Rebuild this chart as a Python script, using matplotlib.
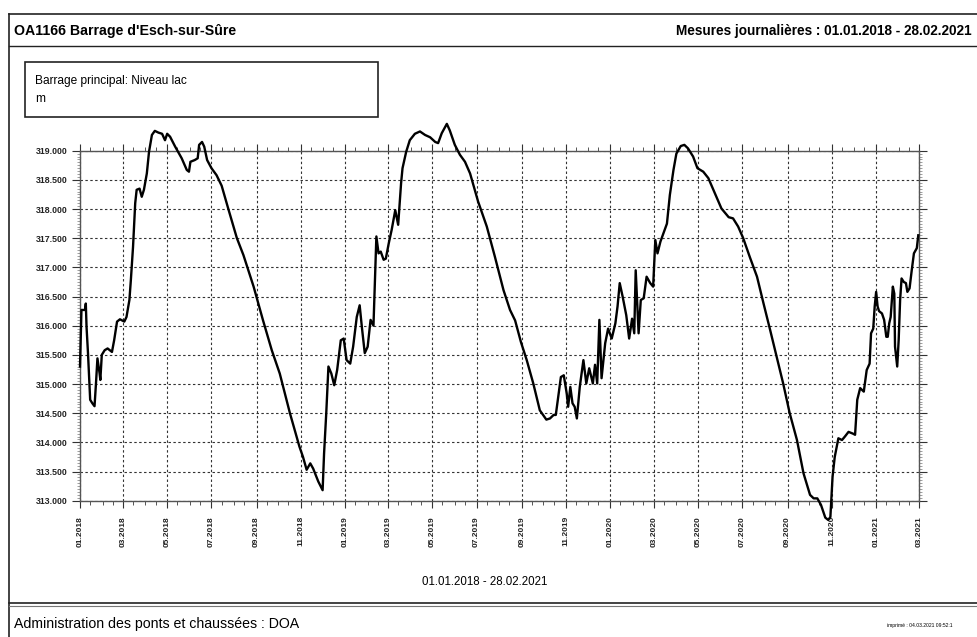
import matplotlib
matplotlib.use("Agg")
import matplotlib.pyplot as plt
import matplotlib.dates as mdates
import pandas as pd
from matplotlib.lines import Line2D
from matplotlib.patches import Rectangle
from matplotlib.ticker import MultipleLocator, FormatStrFormatter

plt.rcParams['font.family'] = ['Liberation Sans', 'DejaVu Sans']

# Barrage principal : niveau du lac (m), jours depuis le 01.01.2018
start_date = "2018-01-01"
days = [0, 2, 7, 8, 9, 11, 14, 17, 20, 22, 24, 27, 28, 30, 34, 38, 41, 44, 47, 51,
        55, 61, 64, 68, 70, 73, 76, 78, 82, 85, 88, 92, 95, 99, 103, 108, 113, 117, 120, 124,
        131, 140, 147, 150, 152, 158, 162, 164, 168, 171, 175, 181, 188, 195, 204, 216, 225, 239, 252, 264,
        275, 289, 302, 307, 312, 317, 321, 328, 334, 336, 339, 342, 346, 350, 354, 359, 363, 367, 372, 376,
        381, 385, 388, 392, 396, 400, 404, 406, 408, 411, 414, 418, 421, 425, 429, 434, 438, 442, 444, 449,
        454, 461, 468, 475, 482, 489, 493, 498, 505, 509, 516, 523, 530, 537, 548, 560, 571, 583, 592, 599,
        607, 615, 624, 633, 642, 647, 652, 655, 659, 662, 666, 670, 672, 675, 678, 681, 684, 688, 693, 697,
        701, 706, 709, 712, 715, 718, 723, 727, 732, 737, 740, 743, 747, 752, 756, 760, 763, 765, 769, 772,
        776, 780, 785, 789, 792, 795, 799, 804, 808, 812, 817, 821, 827, 832, 837, 844, 850, 858, 865, 874,
        883, 893, 899, 906, 913, 922, 932, 941, 950, 959, 968, 977, 987, 996, 1005, 1010, 1015, 1020, 1026, 1030,
        1033, 1036, 1039, 1044, 1049, 1053, 1058, 1064, 1067, 1070, 1074, 1079, 1083, 1087, 1089, 1092, 1094, 1096, 1098, 1100,
        1104, 1107, 1110, 1112, 1114, 1116, 1119, 1121, 1122, 1125, 1127, 1129, 1131, 1134, 1137, 1139, 1142, 1145, 1148, 1152,
        1154]
level = [315.30, 316.27, 316.27, 316.38, 315.98, 315.53, 314.73, 314.67, 314.62, 315.01, 315.44, 315.18, 315.07, 315.50, 315.58, 315.61, 315.58, 315.55, 315.75, 316.07,
         316.11, 316.07, 316.15, 316.44, 316.78, 317.35, 318.10, 318.33, 318.35, 318.21, 318.33, 318.61, 318.98, 319.27, 319.34, 319.31, 319.29, 319.18, 319.29, 319.24,
         319.07, 318.87, 318.67, 318.64, 318.81, 318.84, 318.87, 319.10, 319.15, 319.07, 318.84, 318.70, 318.58, 318.40, 318.01, 317.50, 317.21, 316.67, 316.09, 315.58,
         315.18, 314.50, 313.93, 313.75, 313.53, 313.64, 313.55, 313.33, 313.18, 313.81, 314.50, 315.30, 315.18, 314.98, 315.24, 315.75, 315.78, 315.41, 315.35, 315.64,
         316.15, 316.35, 315.98, 315.53, 315.64, 316.10, 316.00, 316.78, 317.53, 317.24, 317.27, 317.13, 317.15, 317.41, 317.64, 317.98, 317.73, 318.44, 318.70, 318.98,
         319.18, 319.29, 319.33, 319.27, 319.23, 319.15, 319.13, 319.30, 319.46, 319.35, 319.10, 318.93, 318.81, 318.61, 318.13, 317.70, 317.19, 316.61, 316.27, 316.09,
         315.72, 315.41, 315.01, 314.55, 314.39, 314.41, 314.47, 314.47, 314.84, 315.12, 315.15, 314.84, 314.61, 314.95, 314.67, 314.61, 314.41, 314.95, 315.41, 315.01,
         315.27, 315.01, 315.33, 315.01, 316.10, 315.10, 315.70, 315.95, 315.78, 316.04, 316.33, 316.73, 316.50, 316.18, 315.78, 316.12, 315.87, 316.95, 315.87, 316.44,
         316.47, 316.84, 316.73, 316.67, 317.47, 317.24, 317.44, 317.61, 317.75, 318.24, 318.67, 318.95, 319.08, 319.10, 319.04, 318.90, 318.70, 318.64, 318.53, 318.27,
         318.01, 317.86, 317.84, 317.70, 317.50, 317.18, 316.84, 316.38, 315.93, 315.47, 315.01, 314.50, 314.04, 313.47, 313.10, 313.04, 313.04, 312.93, 312.71, 312.67,
         312.72, 313.41, 313.75, 314.07, 314.04, 314.10, 314.18, 314.15, 314.13, 314.73, 314.93, 314.87, 315.24, 315.35, 315.87, 315.95, 316.33, 316.58, 316.33, 316.25,
         316.21, 316.10, 315.81, 315.81, 316.04, 316.15, 316.67, 316.55, 315.64, 315.30, 315.75, 316.44, 316.81, 316.75, 316.73, 316.58, 316.64, 316.95, 317.24, 317.33,
         317.55]

x_start = "2018-01-01"
x_end = "2021-03-01"
y_min, y_max = 313.0, 319.0

title_left = "OA1166 Barrage d'Esch-sur-Sûre"
title_right = "Mesures journalières : 01.01.2018 - 28.02.2021"
legend_lines = ["Barrage principal: Niveau lac", "m"]
period = "01.01.2018 - 28.02.2021"
footer = "Administration des ponts et chaussées : DOA"
printed = "imprimé : 04.03.2021 09:52:1"

W, H = 977, 637
fig = plt.figure(figsize=(W / 100, H / 100), dpi=100)


def fx(px):
    return px / W


def fy(py):
    return 1 - py / H


def line(x0, y0, x1, y1, lw=1.0, color='#222222'):
    fig.add_artist(Line2D([fx(x0), fx(x1)], [fy(y0), fy(y1)], lw=lw, color=color))


# cadre de la page
line(9, 14, W + 5, 14, lw=1.2)
line(9, 14, 9, H + 5, lw=1.2)
line(9, 46, W + 5, 46, lw=1.0)
line(9, 603, W + 5, 603, lw=1.2)
line(9, 606, W + 5, 606, lw=0.8, color='#777777')

fig.text(fx(14), fy(31), title_left, fontsize=10.2, fontweight='bold', va='center', ha='left')
fig.text(fx(972), fy(31), title_right, fontsize=9.8, fontweight='bold', va='center', ha='right')

fig.add_artist(Rectangle((fx(25), fy(117)), fx(378) - fx(25), fy(62) - fy(117),
                         transform=fig.transFigure, fill=False, lw=1.2, edgecolor='#222222'))
fig.text(fx(35), fy(81), legend_lines[0], fontsize=8.6, va='center', ha='left')
fig.text(fx(35), fy(99), legend_lines[1], fontsize=8.6, va='center', ha='left')

fig.text(fx(485), fy(582), period, fontsize=8.3, va='center', ha='center')
fig.text(fx(14), fy(624), footer, fontsize=10.2, va='center', ha='left')
fig.text(fx(887), fy(625), printed, fontsize=3.6, va='center', ha='left')

# graphique
ax = fig.add_axes([fx(80), fy(500.7), fx(919) - fx(80), fy(150.7) - fy(500.7)])
dates = pd.Timestamp(start_date) + pd.to_timedelta(days, unit="D")
ax.plot(dates, level, color='black', linewidth=1.7, clip_on=False, zorder=5)

ax.set_xlim(pd.Timestamp(x_start), pd.Timestamp(x_end))
ax.set_ylim(y_min, y_max)

ax.xaxis.set_major_locator(mdates.MonthLocator(bymonth=[1, 3, 5, 7, 9, 11]))
ax.xaxis.set_major_formatter(mdates.DateFormatter("%m.%Y"))
ax.xaxis.set_minor_locator(mdates.DayLocator(bymonthday=[1, 15]))
ax.yaxis.set_major_locator(MultipleLocator(0.5))
ax.yaxis.set_minor_locator(MultipleLocator(0.05))
ax.yaxis.set_major_formatter(FormatStrFormatter("%.3f"))

ax.tick_params(axis='x', which='major', direction='out', length=5, width=0.8,
               top=True, bottom=True, labelsize=6, pad=6, colors='#333333')
ax.tick_params(axis='x', which='minor', direction='out', length=3, width=0.7,
               top=True, bottom=True, colors='#555555')
ax.tick_params(axis='y', which='major', direction='out', length=6, width=0.8,
               left=True, right=True, labelsize=6.3, pad=3, colors='#333333')
ax.tick_params(axis='y', which='minor', direction='out', length=2.5, width=0.5,
               left=True, right=True, colors='#777777')
for lab in ax.get_xticklabels():
    lab.set_rotation(90)
    lab.set_fontweight('bold')
    lab.set_color('#222222')
for lab in ax.get_yticklabels():
    lab.set_fontweight('bold')
    lab.set_color('#222222')

ax.grid(True, which='major', linestyle=(0, (2.2, 2.2)), color='#333333', linewidth=0.8)
for sp in ax.spines.values():
    sp.set_color('#555555')
    sp.set_linewidth(1.0)

fig.savefig("out.png", dpi=100)
